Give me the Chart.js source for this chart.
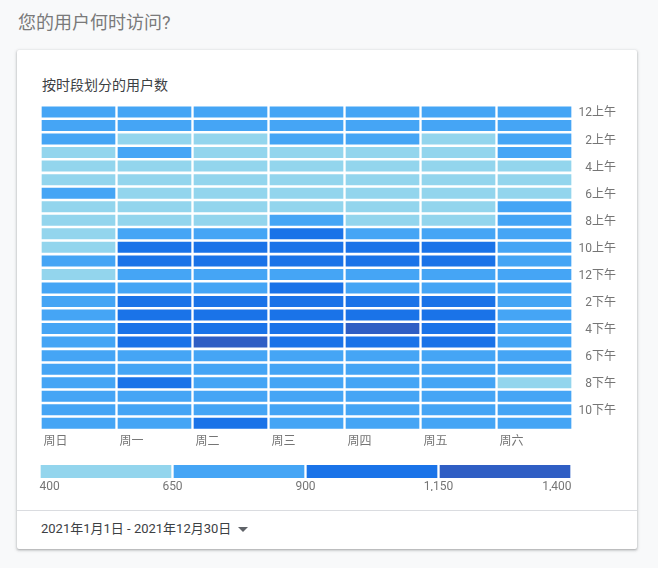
<!DOCTYPE html>
<html lang="zh-CN">
<head>
<meta charset="utf-8">
<title>您的用户何时访问?</title>
<script src="https://cdn.jsdelivr.net/npm/chart.js@4.4.1/dist/chart.umd.min.js"></script>
<style>
  html, body { margin:0; padding:0; }
  body { width:658px; height:568px; background:#f8f9fa; position:relative; overflow:hidden;
         font-family:Roboto, "Noto Sans CJK SC", sans-serif; }
  .page-title { position:absolute; left:18px; top:11px; font-size:18px; line-height:24px; color:#7a7a7a; }
  .card { position:absolute; left:17px; top:50px; width:620px; height:499px; background:#fff; border-radius:2px;
          box-shadow:0 1px 2px rgba(60,64,67,.3), 0 1px 3px 1px rgba(60,64,67,.15); }
  .card__title { position:absolute; left:25px; top:24.5px; font-size:14px; line-height:20px; color:#3c4043; }
  #heat { position:absolute; left:13px; top:45px; }
  #scale { position:absolute; left:13px; top:405px; }
  .card__foot { position:absolute; left:0; right:0; top:460px; border-top:1px solid #dadce0; }
  .range { position:absolute; left:24px; top:468.5px; font-size:13px; line-height:20px; color:#3c4043; }
  .caret { display:inline-block; width:0; height:0; margin-left:7px; vertical-align:middle;
           border-left:5px solid transparent; border-right:5px solid transparent; border-top:5px solid #5f6368; }
</style>
</head>
<body>
<div class="page-title">您的用户何时访问?</div>
<div class="card">
  <div class="card__title">按时段划分的用户数</div>
  <canvas id="heat" width="600" height="360"></canvas>
  <canvas id="scale" width="600" height="45"></canvas>
  <div class="card__foot"></div>
  <div class="range">2021年1月1日 - 2021年12月30日<span class="caret"></span></div>
</div>
<script>
// Users per hour (0 = 12上午 ... 23 = 11下午), one array per weekday
const days = ['周日','周一','周二','周三','周四','周五','周六'];
const sun = [712, 688, 665, 602, 548, 521, 668, 583, 612, 635, 641, 676, 644, 702, 731, 748, 756, 771, 764, 752, 789, 803, 776, 742];
const mon = [705, 672, 618, 663, 562, 507, 489, 536, 598, 812, 986, 1032, 874, 897, 1041, 1068, 1079, 1012, 868, 842, 917, 856, 803, 748];
const tue = [716, 677, 627, 589, 531, 498, 512, 560, 631, 846, 1015, 1057, 862, 884, 1073, 1102, 1124, 1163, 883, 836, 812, 794, 861, 928];
const wed = [731, 694, 657, 611, 547, 503, 519, 574, 688, 935, 1048, 1091, 889, 921, 1087, 1116, 1108, 1049, 879, 851, 827, 806, 833, 771];
const thu = [724, 683, 659, 606, 539, 494, 508, 566, 637, 867, 1006, 1063, 871, 892, 1096, 1127, 1172, 1084, 873, 829, 808, 791, 814, 759];
const fri = [708, 676, 642, 583, 527, 489, 501, 548, 619, 838, 968, 1021, 853, 861, 1035, 1062, 1048, 973, 846, 812, 784, 767, 791, 744];
const sat = [739, 701, 674, 661, 603, 552, 618, 653, 694, 742, 781, 803, 812, 827, 806, 798, 815, 787, 763, 726, 645, 702, 716, 693];
const usersByDay = [sun, mon, tue, wed, thu, fri, sat];

const hourTicks = [0, 2, 4, 6, 8, 10, 12, 14, 16, 18, 20, 22];
const hourLabels = ['12上午','2上午','4上午','6上午','8上午','10上午','12下午','2下午','4下午','6下午','8下午','10下午'];

// colour buckets
const bucketEdges = [400, 650, 900, 1150, 1400];
const bucketColors = ['#93d5ed', '#45a5f5', '#1a73e8', '#2f5ec4'];

const colorFor = v => {
  for (let i = 0; i < bucketColors.length; i++){
    if (v < bucketEdges[i + 1]) return bucketColors[i];
  }
  return bucketColors[bucketColors.length - 1];
};

Chart.defaults.font.family = 'Roboto, "Noto Sans CJK SC", sans-serif';
Chart.defaults.font.size = 12;
Chart.defaults.color = '#757575';

// Heatmap: one floating-bar dataset per hour on a reversed hour axis
new Chart(document.getElementById('heat'), {
  type: 'bar',
  data: {
    labels: days,
    datasets: sun.map((_, h) => ({
      label: String(h),
      data: days.map(() => [h - 0.5, h + 0.5]),
      backgroundColor: usersByDay.map(day => colorFor(day[h])),
      borderColor: '#ffffff',
      borderWidth: { left: 1.5, right: 1.5, top: 1.6, bottom: 1.6 },
      borderSkipped: false,
      grouped: false,
      categoryPercentage: 1,
      barPercentage: 1
    }))
  },
  options: {
    responsive: false,
    animation: false,
    layout: { padding: { left: 10.5, top: 10.2, right: 14, bottom: 0.5 } },
    plugins: { legend: { display: false }, tooltip: { enabled: false } },
    scales: {
      x: {
        grid: { display: false, drawTicks: false },
        border: { display: false },
        ticks: { align: 'start', labelOffset: -35, padding: 5, maxRotation: 0 }
      },
      y: {
        position: 'right',
        reverse: true,
        min: -0.5,
        max: 23.5,
        grid: { display: false, drawTicks: false },
        border: { display: false },
        afterBuildTicks: s => { s.ticks = hourTicks.map(v => ({ value: v })); },
        ticks: { crossAlign: 'far', padding: 3, labelOffset: 1.5, autoSkip: false, callback: (v, i) => hourLabels[i] }
      }
    }
  }
});

// Colour scale legend
new Chart(document.getElementById('scale'), {
  type: 'bar',
  data: {
    labels: ['用户数'],
    datasets: bucketColors.map((c, i) => ({
      data: [[bucketEdges[i], bucketEdges[i + 1]]],
      backgroundColor: c,
      borderColor: '#ffffff',
      borderWidth: { left: 1.5, right: 1.5, top: 0, bottom: 0 },
      borderSkipped: false,
      grouped: false,
      categoryPercentage: 1,
      barPercentage: 1
    }))
  },
  options: {
    indexAxis: 'y',
    responsive: false,
    animation: false,
    layout: { padding: { left: 9.5, right: 58.5, top: 10, bottom: 9.1 } },
    plugins: { legend: { display: false }, tooltip: { enabled: false } },
    scales: {
      x: {
        min: bucketEdges[0],
        max: bucketEdges[bucketEdges.length - 1],
        grid: { display: false, drawTicks: false },
        border: { display: false },
        afterBuildTicks: s => { s.ticks = bucketEdges.map(v => ({ value: v })); },
        ticks: { align: 'inner', padding: 1.5, maxRotation: 0, callback: v => v.toLocaleString('en-US') }
      },
      y: { display: false }
    }
  }
});
</script>
</body>
</html>
